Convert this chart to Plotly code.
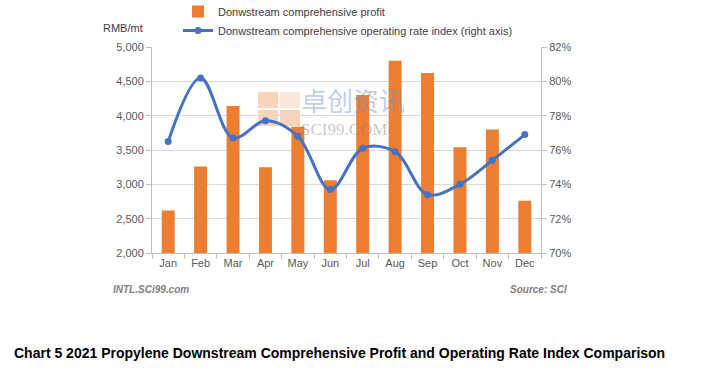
import plotly.graph_objects as go

months = ["Jan", "Feb", "Mar", "Apr", "May", "Jun", "Jul", "Aug", "Sep", "Oct", "Nov", "Dec"]
profit = [2620, 3260, 4140, 3250, 3840, 3060, 4300, 4800, 4620, 3540, 3800, 2760]
operating_rate = [76.5, 80.2, 76.7, 77.7, 76.8, 73.7, 76.1, 75.9, 73.4, 74.0, 75.4, 76.9]

left_ticks = [2000, 2500, 3000, 3500, 4000, 4500, 5000]
right_ticks = [70, 72, 74, 76, 78, 80, 82]

ORANGE = "#ED7D31"
BLUE = "#4472C4"
TXT = "#595959"
FONT = "Liberation Sans, Arial, sans-serif"

# plot area in pixels (for placing decorations)
L, R, T, B = 152, 541, 47, 253
def px(x):
    return (x - L) / (R - L)
def py(y):
    return (B - y) / (B - T)

fig = go.Figure()
fig.add_trace(go.Bar(
    x=months, y=profit, name="Donwstream comprehensive profit",
    marker=dict(color=ORANGE, line=dict(width=0)),
))
fig.add_trace(go.Scatter(
    x=months, y=operating_rate, yaxis="y2",
    name="Donwstream comprehensive operating rate index (right axis)",
    mode="lines+markers", line=dict(color=BLUE, width=3, shape="spline", smoothing=1.0),
    marker=dict(color=BLUE, size=7),
))

fig.update_layout(
    width=711, height=370,
    margin=dict(l=L, r=711 - R, t=T, b=370 - B, autoexpand=False),
    paper_bgcolor="white", plot_bgcolor="white",
    font=dict(family=FONT, size=11, color=TXT),
    bargap=0.6,
    showlegend=True,
    legend=dict(
        x=px(178), y=py(-3), xanchor="left", yanchor="top",
        orientation="v", font=dict(size=11, color="#404040", family=FONT),
        bgcolor="rgba(0,0,0,0)", tracegroupgap=0, itemwidth=30,
    ),
    xaxis=dict(
        type="category", range=[-0.5, 11.5],
        showline=True, linecolor="#BFBFBF", linewidth=1,
        ticks="outside", tickson="boundaries", ticklen=5, tickcolor="#BFBFBF",
        showgrid=False, tickfont=dict(size=11, color=TXT),
    ),
    yaxis=dict(
        range=[2000, 5000], tickvals=left_ticks,
        tickformat=",d",
        showgrid=True, gridcolor="#D9D9D9", gridwidth=1,
        showline=True, linecolor="#BFBFBF", linewidth=1,
        ticks="outside", ticklen=5, tickcolor="#BFBFBF",
        zeroline=False, tickfont=dict(size=11, color=TXT),
    ),
    yaxis2=dict(
        range=[70, 82], tickvals=right_ticks,
        ticktext=[f"{v}%" for v in right_ticks],
        overlaying="y", side="right",
        showgrid=False,
        showline=True, linecolor="#BFBFBF", linewidth=1,
        ticks="outside", ticklen=5, tickcolor="#BFBFBF",
        zeroline=False, tickfont=dict(size=11, color=TXT),
    ),
)

# Watermark logo (four light squares)
logo = [(258, 92, 278, 108, "rgba(244,176,132,0.55)"),
        (280, 92, 300, 108, "rgba(244,176,132,0.30)"),
        (258, 110, 278, 126, "rgba(244,176,132,0.55)"),
        (280, 110, 300, 126, "rgba(244,176,132,0.55)")]
for x0, y0, x1, y1, c in logo:
    fig.add_shape(type="rect", xref="paper", yref="paper",
                  x0=px(x0), x1=px(x1), y0=py(y1), y1=py(y0),
                  fillcolor=c, line=dict(width=0), layer="below")
fig.add_annotation(xref="paper", yref="paper", x=px(300), y=py(119), xanchor="left", yanchor="bottom",
                   text="卓创资讯", showarrow=False, borderpad=0,
                   font=dict(size=26, color="rgba(110,145,205,0.45)", family="Noto Sans CJK SC"))
fig.add_annotation(xref="paper", yref="paper", x=px(300), y=py(119), xanchor="left", yanchor="top",
                   text="SCI99.COM", showarrow=False, borderpad=0,
                   font=dict(size=17, color="rgba(130,130,130,0.45)", family="Liberation Serif"))

fig.add_annotation(xref="paper", yref="paper", x=px(101), y=py(28), xanchor="left", yanchor="middle",
                   text="RMB/mt", showarrow=False, font=dict(size=11, color="#404040"))
fig.add_annotation(xref="paper", yref="paper", x=px(111), y=py(289), xanchor="left", yanchor="middle",
                   text="<b><i>INTL.SCi99.com</i></b>", showarrow=False,
                   font=dict(size=10, color="#7F7F7F"))
fig.add_annotation(xref="paper", yref="paper", x=px(569), y=py(289), xanchor="right", yanchor="middle",
                   text="<b><i>Source: SCI</i></b>", showarrow=False,
                   font=dict(size=10, color="#7F7F7F"))
fig.add_annotation(xref="paper", yref="paper", x=px(12), y=py(353), xanchor="left", yanchor="middle",
                   text="<b>Chart 5 2021 Propylene Downstream Comprehensive Profit and Operating Rate Index Comparison</b>",
                   showarrow=False, font=dict(size=14, color="#000000"))

fig.write_html("out.html", config={"displayModeBar": False},
               post_script="document.body.style.margin='0';")
